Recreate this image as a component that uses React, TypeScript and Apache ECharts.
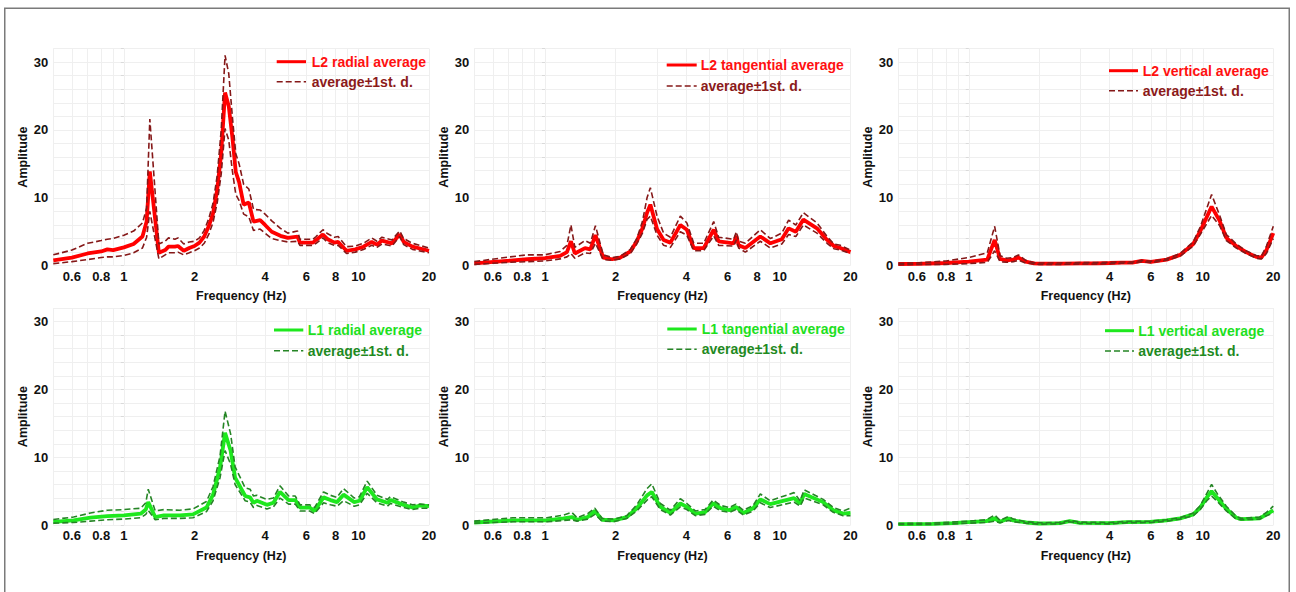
import React, { useEffect, useRef } from 'react';
import * as echarts from 'echarts';

// ---------- axis ticks ----------
const X_MIN = 0.5;
const X_MAX = 20;
const Y_MAX = 32;
const X_TICK_LABELS = [0.6, 0.8, 1, 2, 4, 6, 8, 10, 20];
const X_GRID = [0.5, 0.6, 0.7, 0.8, 0.9, 1, 2, 3, 4, 5, 6, 7, 8, 9, 10, 20];
const Y_TICK_LABELS = [0, 10, 20, 30];

// ---------- L2 radial ----------
const F_L2_RAD = [0.5, 0.6, 0.7, 0.8, 0.85, 0.9, 1.0, 1.1, 1.2, 1.25, 1.29, 1.41, 1.5, 1.55, 1.65, 1.7, 1.8, 1.9, 2.0, 2.1, 2.2, 2.3, 2.4, 2.5, 2.6, 2.7, 2.8, 2.9, 3.0, 3.1, 3.24, 3.41, 3.57, 3.81, 4.0, 4.27, 4.65, 5.0, 5.5, 5.63, 6.4, 6.6, 7.06, 7.4, 7.9, 8.2, 8.9, 9.7, 10.5, 11.4, 12.0, 12.6, 13.9, 15.0, 15.6, 17.0, 20];
const AVG_L2_RAD = [0.8, 1.2, 1.8, 2.1, 2.4, 2.3, 2.7, 3.2, 4.3, 6.5, 13.9, 1.9, 2.3, 2.8, 2.8, 2.9, 2.2, 2.6, 2.9, 3.4, 4.3, 5.8, 7.7, 11.2, 16.6, 25.5, 23.5, 19.0, 13.8, 12.3, 9.0, 9.3, 6.5, 6.7, 6.0, 5.0, 4.4, 4.1, 4.3, 3.4, 3.4, 3.8, 4.6, 3.9, 3.4, 3.5, 2.2, 2.4, 2.8, 3.5, 3.1, 3.7, 3.3, 4.6, 3.5, 2.8, 2.2];
const UP_L2_RAD = [1.6, 2.3, 3.3, 3.7, 3.9, 4.0, 4.5, 5.1, 6.3, 8.5, 21.6, 3.2, 3.6, 4.1, 3.9, 4.1, 3.2, 3.5, 3.6, 4.1, 5.2, 6.9, 9.2, 13.3, 20.0, 31.0, 28.3, 22.0, 16.5, 15.0, 12.0, 11.3, 8.3, 8.2, 7.6, 6.6, 5.5, 4.8, 5.1, 3.9, 3.9, 4.3, 5.3, 4.7, 4.2, 4.3, 2.8, 2.9, 3.3, 4.1, 3.6, 4.2, 3.8, 5.1, 4.0, 3.3, 2.6];
const LO_L2_RAD = [0.3, 0.6, 0.9, 1.2, 1.3, 1.3, 1.5, 1.9, 2.6, 4.2, 8.0, 1.0, 1.6, 1.9, 1.9, 2.0, 1.6, 1.9, 2.2, 2.6, 3.3, 4.6, 6.4, 9.3, 13.5, 20.2, 18.5, 14.0, 10.5, 9.6, 7.6, 7.2, 5.2, 5.4, 4.8, 4.0, 3.7, 3.5, 3.6, 3.0, 3.0, 3.3, 4.1, 3.4, 3.0, 3.0, 1.8, 2.0, 2.4, 3.0, 2.7, 3.2, 2.9, 4.3, 3.1, 2.4, 1.9];

// ---------- L2 tangential ----------
const F_L2_TAN = [0.5, 0.71, 0.84, 1.0, 1.16, 1.24, 1.29, 1.34, 1.48, 1.56, 1.64, 1.77, 1.93, 2.09, 2.31, 2.46, 2.6, 2.72, 2.81, 3.0, 3.2, 3.42, 3.77, 4.02, 4.3, 4.74, 5.23, 5.49, 6.36, 6.53, 6.68, 7.13, 8.26, 9.12, 10.2, 10.9, 11.7, 12.6, 14.4, 15.9, 17.0, 18.1, 20];
const AVG_L2_TAN = [0.35, 0.75, 0.95, 1.1, 1.45, 2.0, 3.6, 1.8, 2.6, 2.4, 4.5, 1.2, 0.95, 1.2, 2.1, 3.6, 5.5, 7.8, 9.0, 5.4, 3.8, 3.4, 6.0, 5.3, 2.6, 2.6, 5.3, 3.6, 3.3, 4.4, 3.0, 2.6, 4.3, 3.3, 3.9, 5.5, 5.0, 6.8, 5.5, 3.8, 2.9, 2.6, 2.0];
const UP_L2_TAN = [0.6, 1.3, 1.6, 1.6, 2.1, 3.0, 6.0, 2.7, 3.7, 3.3, 5.9, 1.6, 1.2, 1.4, 2.4, 4.0, 6.5, 10.0, 11.5, 7.3, 4.8, 4.2, 7.3, 6.3, 3.3, 3.3, 6.5, 4.2, 3.9, 5.0, 3.6, 3.3, 5.3, 4.0, 4.8, 6.7, 6.0, 7.8, 6.3, 4.3, 3.2, 3.0, 2.3];
const LO_L2_TAN = [0.2, 0.5, 0.6, 0.7, 1.0, 1.3, 1.8, 1.1, 1.9, 1.8, 3.3, 0.9, 0.8, 1.0, 1.8, 3.2, 4.8, 6.8, 7.3, 4.5, 3.0, 2.7, 5.0, 4.5, 2.2, 2.2, 4.4, 3.0, 2.9, 3.8, 2.6, 2.0, 3.6, 2.6, 3.2, 4.6, 4.3, 6.0, 4.8, 3.3, 2.5, 2.3, 1.8];

// ---------- L2 vertical ----------
const F_L2_VER = [0.5, 0.6, 0.8, 1.0, 1.2, 1.29, 1.36, 1.45, 1.55, 1.63, 1.75, 1.9, 2.0, 2.5, 3.0, 3.5, 4.0, 4.5, 5.0, 5.48, 6.0, 7.0, 8.0, 9.1, 9.75, 10.9, 11.8, 12.6, 13.9, 15.3, 16.9, 17.8, 18.7, 20];
const AVG_L2_VER = [0.25, 0.28, 0.4, 0.6, 0.9, 3.8, 1.0, 0.8, 0.9, 1.2, 0.6, 0.35, 0.3, 0.3, 0.35, 0.35, 0.4, 0.45, 0.45, 0.7, 0.55, 0.9, 1.6, 3.2, 5.1, 8.7, 6.6, 4.1, 2.9, 2.0, 1.3, 1.2, 2.3, 4.8];
const UP_L2_VER = [0.35, 0.4, 0.7, 1.2, 1.9, 5.8, 1.5, 1.1, 1.2, 1.6, 0.8, 0.45, 0.4, 0.4, 0.45, 0.45, 0.5, 0.55, 0.55, 0.8, 0.65, 1.0, 1.8, 3.5, 5.7, 10.5, 7.4, 4.6, 3.2, 2.2, 1.5, 1.4, 2.9, 5.8];
const LO_L2_VER = [0.15, 0.18, 0.2, 0.3, 0.5, 2.2, 0.6, 0.5, 0.6, 0.8, 0.4, 0.25, 0.2, 0.2, 0.25, 0.25, 0.3, 0.35, 0.35, 0.6, 0.45, 0.8, 1.4, 2.9, 4.6, 7.4, 5.9, 3.7, 2.6, 1.8, 1.1, 1.0, 1.8, 4.0];

// ---------- L1 radial ----------
const F_L1_RAD = [0.5, 0.61, 0.72, 0.85, 1.0, 1.18, 1.24, 1.27, 1.36, 1.48, 1.73, 1.97, 2.25, 2.4, 2.57, 2.7, 2.85, 2.98, 3.29, 3.45, 3.57, 3.69, 4.07, 4.34, 4.63, 5.04, 5.38, 5.64, 6.2, 6.5, 7.1, 7.6, 8.1, 8.64, 9.6, 10.1, 10.9, 12.0, 13.3, 13.7, 15.6, 17.0, 18.3, 20];
const AVG_L1_RAD = [0.5, 0.7, 1.1, 1.35, 1.45, 1.7, 2.3, 3.4, 1.2, 1.45, 1.45, 1.6, 2.6, 4.5, 8.5, 13.6, 11.0, 7.0, 4.3, 4.1, 3.3, 3.6, 3.0, 3.3, 4.9, 3.7, 3.7, 2.6, 2.6, 2.1, 4.1, 3.7, 3.4, 4.5, 3.4, 3.6, 5.6, 3.8, 3.3, 3.7, 3.0, 2.6, 2.9, 2.8];
const UP_L1_RAD = [0.85, 1.2, 1.8, 2.2, 2.3, 2.5, 3.3, 5.3, 2.1, 2.3, 2.2, 2.4, 3.5, 5.7, 10.2, 16.8, 13.5, 8.6, 5.5, 5.3, 4.3, 4.4, 3.8, 4.0, 5.8, 4.3, 4.3, 3.0, 3.0, 2.6, 4.9, 4.4, 4.1, 5.4, 4.0, 4.2, 6.5, 4.4, 3.8, 4.2, 3.4, 3.0, 3.1, 3.0];
const LO_L1_RAD = [0.3, 0.4, 0.6, 0.8, 0.9, 1.1, 1.6, 2.2, 0.8, 1.0, 1.0, 1.1, 2.0, 3.6, 7.0, 11.0, 9.0, 6.0, 3.6, 3.4, 2.6, 2.9, 2.4, 2.7, 4.0, 3.1, 3.1, 2.1, 2.1, 1.7, 3.3, 3.0, 2.8, 3.6, 2.8, 3.0, 4.7, 3.3, 2.8, 3.2, 2.6, 2.3, 2.5, 2.5];

// ---------- L1 tangential ----------
const F_L1_TAN = [0.5, 0.73, 1.02, 1.2, 1.3, 1.37, 1.52, 1.63, 1.75, 1.97, 2.23, 2.46, 2.72, 2.85, 3.1, 3.42, 3.77, 4.02, 4.37, 4.8, 5.2, 5.6, 6.1, 6.5, 7.0, 7.7, 8.26, 9.1, 11.5, 12.2, 12.7, 15.3, 16.9, 18.6, 20];
const AVG_L1_TAN = [0.4, 0.7, 0.7, 1.0, 1.2, 0.8, 1.2, 2.1, 0.8, 0.7, 1.2, 2.5, 4.4, 4.9, 2.7, 1.8, 3.2, 2.7, 1.7, 1.9, 3.2, 2.5, 2.2, 2.7, 1.8, 2.5, 3.8, 3.1, 4.0, 3.2, 4.6, 3.4, 2.2, 1.7, 1.8];
const UP_L1_TAN = [0.6, 1.1, 1.1, 1.5, 1.9, 1.1, 1.7, 2.5, 1.0, 0.9, 1.4, 3.0, 5.4, 6.1, 3.2, 2.2, 3.9, 3.2, 2.1, 2.3, 3.7, 2.9, 2.6, 3.1, 2.2, 2.9, 4.6, 3.6, 4.8, 3.6, 5.2, 3.8, 2.6, 2.1, 2.5];
const LO_L1_TAN = [0.3, 0.5, 0.5, 0.7, 0.8, 0.6, 0.9, 1.6, 0.6, 0.55, 1.0, 2.1, 3.7, 4.2, 2.3, 1.5, 2.7, 2.3, 1.4, 1.6, 2.8, 2.1, 1.9, 2.3, 1.5, 2.1, 3.3, 2.6, 3.4, 2.8, 4.0, 3.0, 1.9, 1.4, 1.4];

// ---------- L1 vertical ----------
const F_L1_VER = [0.5, 0.7, 0.85, 1.0, 1.19, 1.29, 1.36, 1.48, 1.55, 1.76, 2.0, 2.44, 2.7, 2.98, 4.0, 4.72, 5.95, 7.0, 8.0, 9.1, 9.75, 10.4, 10.9, 11.6, 12.6, 13.9, 14.6, 17.5, 18.7, 20];
const AVG_L1_VER = [0.15, 0.2, 0.3, 0.45, 0.6, 1.0, 0.5, 1.0, 0.7, 0.4, 0.25, 0.3, 0.6, 0.35, 0.3, 0.45, 0.5, 0.7, 1.0, 1.6, 2.6, 4.1, 5.0, 3.9, 2.4, 1.1, 0.9, 1.0, 1.6, 2.2];
const UP_L1_VER = [0.25, 0.3, 0.45, 0.6, 0.8, 1.5, 0.7, 1.3, 0.9, 0.5, 0.35, 0.4, 0.7, 0.45, 0.4, 0.55, 0.6, 0.8, 1.1, 1.8, 2.9, 4.7, 6.0, 4.5, 2.8, 1.3, 1.0, 1.2, 1.9, 2.8];
const LO_L1_VER = [0.1, 0.12, 0.2, 0.3, 0.4, 0.6, 0.35, 0.7, 0.5, 0.3, 0.15, 0.2, 0.5, 0.25, 0.2, 0.35, 0.4, 0.6, 0.9, 1.4, 2.3, 3.6, 4.3, 3.4, 2.1, 0.9, 0.8, 0.9, 1.4, 1.8];

const SD_NAME = 'average±1st. d.';

const PANELS = [
  { name: 'L2 radial average', f: F_L2_RAD, avg: AVG_L2_RAD, up: UP_L2_RAD, lo: LO_L2_RAD, scheme: 'red' },
  { name: 'L2 tangential average', f: F_L2_TAN, avg: AVG_L2_TAN, up: UP_L2_TAN, lo: LO_L2_TAN, scheme: 'red' },
  { name: 'L2 vertical average', f: F_L2_VER, avg: AVG_L2_VER, up: UP_L2_VER, lo: LO_L2_VER, scheme: 'red' },
  { name: 'L1 radial average', f: F_L1_RAD, avg: AVG_L1_RAD, up: UP_L1_RAD, lo: LO_L1_RAD, scheme: 'green' },
  { name: 'L1 tangential average', f: F_L1_TAN, avg: AVG_L1_TAN, up: UP_L1_TAN, lo: LO_L1_TAN, scheme: 'green' },
  { name: 'L1 vertical average', f: F_L1_VER, avg: AVG_L1_VER, up: UP_L1_VER, lo: LO_L1_VER, scheme: 'green' },
];

// ---------- layout & styles ----------
const COL_LEFT = [53.3, 474.3, 898.3];
const COL_WIDTH = [375.7, 376.2, 375];
const ROW_TOP = [48.5, 308];
const ROW_HEIGHT = 217.2;
const LEGEND_POS = [
  { x1: 276.7, x2: 306, tx: 311.7, y1: 61.7, y2: 81.7 },
  { x1: 666.7, x2: 696.7, tx: 700.7, y1: 65, y2: 86 },
  { x1: 1109, x2: 1138, tx: 1142.7, y1: 70.7, y2: 90.7 },
  { x1: 274, x2: 303.3, tx: 307.7, y1: 330, y2: 350.7 },
  { x1: 667.3, x2: 696.7, tx: 701.7, y1: 329, y2: 349.3 },
  { x1: 1105, x2: 1134, tx: 1138.3, y1: 330.7, y2: 351 },
];
const SCHEMES: any = {
  red: { main: '#ff0000', mainText: '#ff1010', dark: '#851818', darkText: '#8b1a1a' },
  green: { main: '#1ee81e', mainText: '#1ee01e', dark: '#258525', darkText: '#1f8a1f' },
};
const FONT = '"Liberation Sans", Arial, sans-serif';
const GRID_COLOR = '#efefef';

const lg = (v: number) => Math.log10(v);

export default function App() {
  const ref = useRef<HTMLDivElement>(null);

  useEffect(() => {
    if (!ref.current) return;
    const chart = echarts.init(ref.current, undefined, { renderer: 'svg' });

    const grid: any[] = [];
    const xAxis: any[] = [];
    const yAxis: any[] = [];
    const series: any[] = [];
    const graphic: any[] = [];

    PANELS.forEach((p, i) => {
      const col = i % 3;
      const row = Math.floor(i / 3);
      const sc = SCHEMES[p.scheme];
      grid.push({ left: COL_LEFT[col], top: ROW_TOP[row], width: COL_WIDTH[col], height: ROW_HEIGHT, containLabel: false });
      xAxis.push({
        type: 'value',
        gridIndex: i,
        min: lg(X_MIN),
        max: lg(X_MAX),
        name: 'Frequency (Hz)',
        nameLocation: 'middle',
        nameGap: 24,
        nameTextStyle: { fontFamily: FONT, fontWeight: 'bold', fontSize: 12.5, color: '#111' },
        axisLine: { show: false },
        axisTick: { show: false, customValues: X_GRID.map(lg) },
        splitLine: { show: true, lineStyle: { color: GRID_COLOR, width: 1 } },
        axisLabel: {
          customValues: X_TICK_LABELS.map(lg),
          formatter: (v: number) => String(+Math.pow(10, v).toFixed(1)),
          fontFamily: FONT, fontWeight: 'bold', fontSize: 13, color: '#111', margin: 4,
        },
      });
      yAxis.push({
        type: 'value',
        gridIndex: i,
        min: 0,
        max: Y_MAX,
        interval: 2,
        name: 'Amplitude',
        nameLocation: 'middle',
        nameGap: 24,
        nameTextStyle: { fontFamily: FONT, fontWeight: 'bold', fontSize: 12.5, color: '#111' },
        axisLine: { show: false },
        axisTick: { show: true, length: 3, lineStyle: { color: '#dadada' } },
        splitLine: { show: true, lineStyle: { color: GRID_COLOR, width: 1 } },
        axisLabel: {
          customValues: Y_TICK_LABELS,
          fontFamily: FONT, fontWeight: 'bold', fontSize: 13, color: '#111', margin: 5,
        },
      });
      const pts = (vals: number[]) => p.f.map((f, k) => [lg(f), vals[k]]);
      series.push({
        type: 'line', name: p.name, xAxisIndex: i, yAxisIndex: i,
        data: pts(p.avg), symbol: 'none', silent: true,
        lineStyle: { color: sc.main, width: 3.8 }, z: 2,
      });
      series.push({
        type: 'line', name: SD_NAME, xAxisIndex: i, yAxisIndex: i,
        data: pts(p.up), symbol: 'none', silent: true,
        lineStyle: { color: sc.dark, width: 1.6, type: [6, 3] }, z: 3,
      });
      series.push({
        type: 'line', name: SD_NAME, xAxisIndex: i, yAxisIndex: i,
        data: pts(p.lo), symbol: 'none', silent: true,
        lineStyle: { color: sc.dark, width: 1.6, type: [6, 3] }, z: 3,
      });

      const L = LEGEND_POS[i];
      graphic.push(
        { type: 'line', shape: { x1: L.x1, y1: L.y1, x2: L.x2, y2: L.y1 }, style: { stroke: sc.main, lineWidth: 3 }, z: 10 },
        { type: 'text', x: L.tx, y: L.y1, style: { text: p.name, fill: sc.mainText, font: `bold 14px ${FONT}`, verticalAlign: 'middle', align: 'left' }, z: 10 },
        { type: 'line', shape: { x1: L.x1, y1: L.y2, x2: L.x2, y2: L.y2 }, style: { stroke: sc.dark, lineWidth: 1.6, lineDash: [6, 3] }, z: 10 },
        { type: 'text', x: L.tx, y: L.y2, style: { text: SD_NAME, fill: sc.darkText, font: `bold 14px ${FONT}`, verticalAlign: 'middle', align: 'left' }, z: 10 },
      );
    });

    graphic.push({
      type: 'rect',
      shape: { x: 4.75, y: 8.25, width: 1284.5, height: 640 },
      style: { fill: 'none', stroke: '#7a7a7a', lineWidth: 1.5 },
      z: 0,
    });

    chart.setOption({
      animation: false,
      backgroundColor: '#ffffff',
      grid,
      xAxis,
      yAxis,
      series,
      graphic,
    });

    return () => chart.dispose();
  }, []);

  return (
    <div
      ref={ref}
      style={{ position: 'absolute', left: 0, top: 0, width: 1296, height: 592, background: '#fff' }}
    />
  );
}
